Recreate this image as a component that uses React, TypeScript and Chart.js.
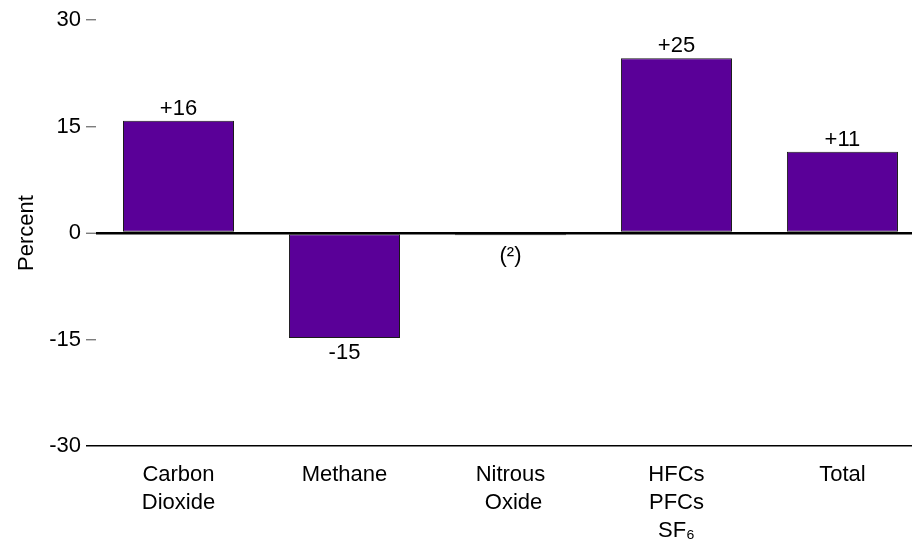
import React, { useEffect, useRef } from "react";
import { Chart, registerables } from "chart.js";

Chart.register(...registerables);

const categories: string[][] = [
  ["Carbon", "Dioxide"],
  ["Methane"],
  ["Nitrous", " Oxide"],
  ["HFCs", "PFCs", "SF₆"],
  ["Total"],
];
const values: number[] = [15.8, -14.8, -0.3, 24.6, 11.45];
const valueLabels: string[] = ["+16", "-15", "(²)", "+25", "+11"];
const yTicks: number[] = [-30, -15, 0, 15, 30];

const FONT = "'Liberation Sans', Arial, Helvetica, sans-serif";
const BAR = "#5a0098";

const labelPlugin = {
  id: "valueLabels",
  afterDatasetsDraw(chart: any) {
    const ctx = chart.ctx;
    const meta = chart.getDatasetMeta(0);
    const zeroY = chart.scales.y.getPixelForValue(0);
    ctx.save();
    ctx.font = `22px ${FONT}`;
    ctx.fillStyle = "#000";
    ctx.textAlign = "center";
    meta.data.forEach((el: any, i: number) => {
      const v = values[i];
      if (v >= 0) {
        ctx.textBaseline = "alphabetic";
        ctx.fillText(valueLabels[i], el.x, el.y - 6);
      } else {
        ctx.textBaseline = "top";
        const base = Math.max(el.y, zeroY + 8);
        ctx.fillText(valueLabels[i], el.x, base + 4);
      }
    });
    ctx.restore();
  },
};

export default function App() {
  const ref = useRef<HTMLCanvasElement | null>(null);
  useEffect(() => {
    if (!ref.current) return;
    Chart.defaults.font.family = FONT;
    const chart = new Chart(ref.current, {
      type: "bar",
      data: {
        datasets: [
          {
            data: values.map((v, i) => ({ x: i, y: v })),
            backgroundColor: BAR,
            borderColor: "#1a1a1a",
            borderWidth: 1,
            borderSkipped: false,
            barPercentage: 0.669,
            categoryPercentage: 1,
          } as any,
        ],
      },
      options: {
        responsive: false,
        animation: false,
        layout: { padding: { top: 20, left: 0, right: 0, bottom: 0 } },
        plugins: { legend: { display: false }, tooltip: { enabled: false } },
        scales: {
          x: {
            type: "linear",
            offset: false,
            min: -0.497,
            max: 4.419,
            grid: { display: false, drawTicks: false },
            border: { display: false },
            afterBuildTicks: (s: any) => {
              s.ticks = categories.map((_, i) => ({ value: i }));
            },
            ticks: {
              callback: (v: any) => categories[v as number],
              font: { size: 22, lineHeight: 1.27 },
              color: "#000",
              padding: 15,
              maxRotation: 0,
              autoSkip: false,
            },
            afterFit: (s: any) => {
              s.height = 93;
            },
          },
          y: {
            min: -30,
            max: 30,
            afterBuildTicks: (s: any) => {
              s.ticks = yTicks.map((v) => ({ value: v }));
            },
            ticks: {
              callback: (v: any) => String(v),
              font: { size: 22 },
              color: "#000",
              padding: 5,
            },
            grid: {
              color: (c: any) =>
                c.tick && (c.tick.value === 0 || c.tick.value === -30) ? "#000" : "rgba(0,0,0,0)",
              lineWidth: (c: any) => (c.tick && c.tick.value === 0 ? 2.5 : 1.5),
              tickColor: (c: any) => (c.tick && c.tick.value === -30 ? "#000" : "#666"),
              tickWidth: (c: any) => (c.tick && c.tick.value === -30 ? 1.5 : 1.2),
              tickLength: 10,
            } as any,
            border: { display: false },
            title: {
              display: true,
              text: "Percent",
              font: { size: 22 },
              color: "#000",
              padding: { top: 14, bottom: 0 },
            },
            afterFit: (s: any) => {
              s.width = 96;
            },
          },
        },
      } as any,
      plugins: [labelPlugin],
    });
    return () => chart.destroy();
  }, []);
  return (
    <div style={{ position: "absolute", left: 0, top: 0, width: 912, height: 539, background: "#fff" }}>
      <canvas ref={ref} width={912} height={539} style={{ display: "block" }} />
    </div>
  );
}
